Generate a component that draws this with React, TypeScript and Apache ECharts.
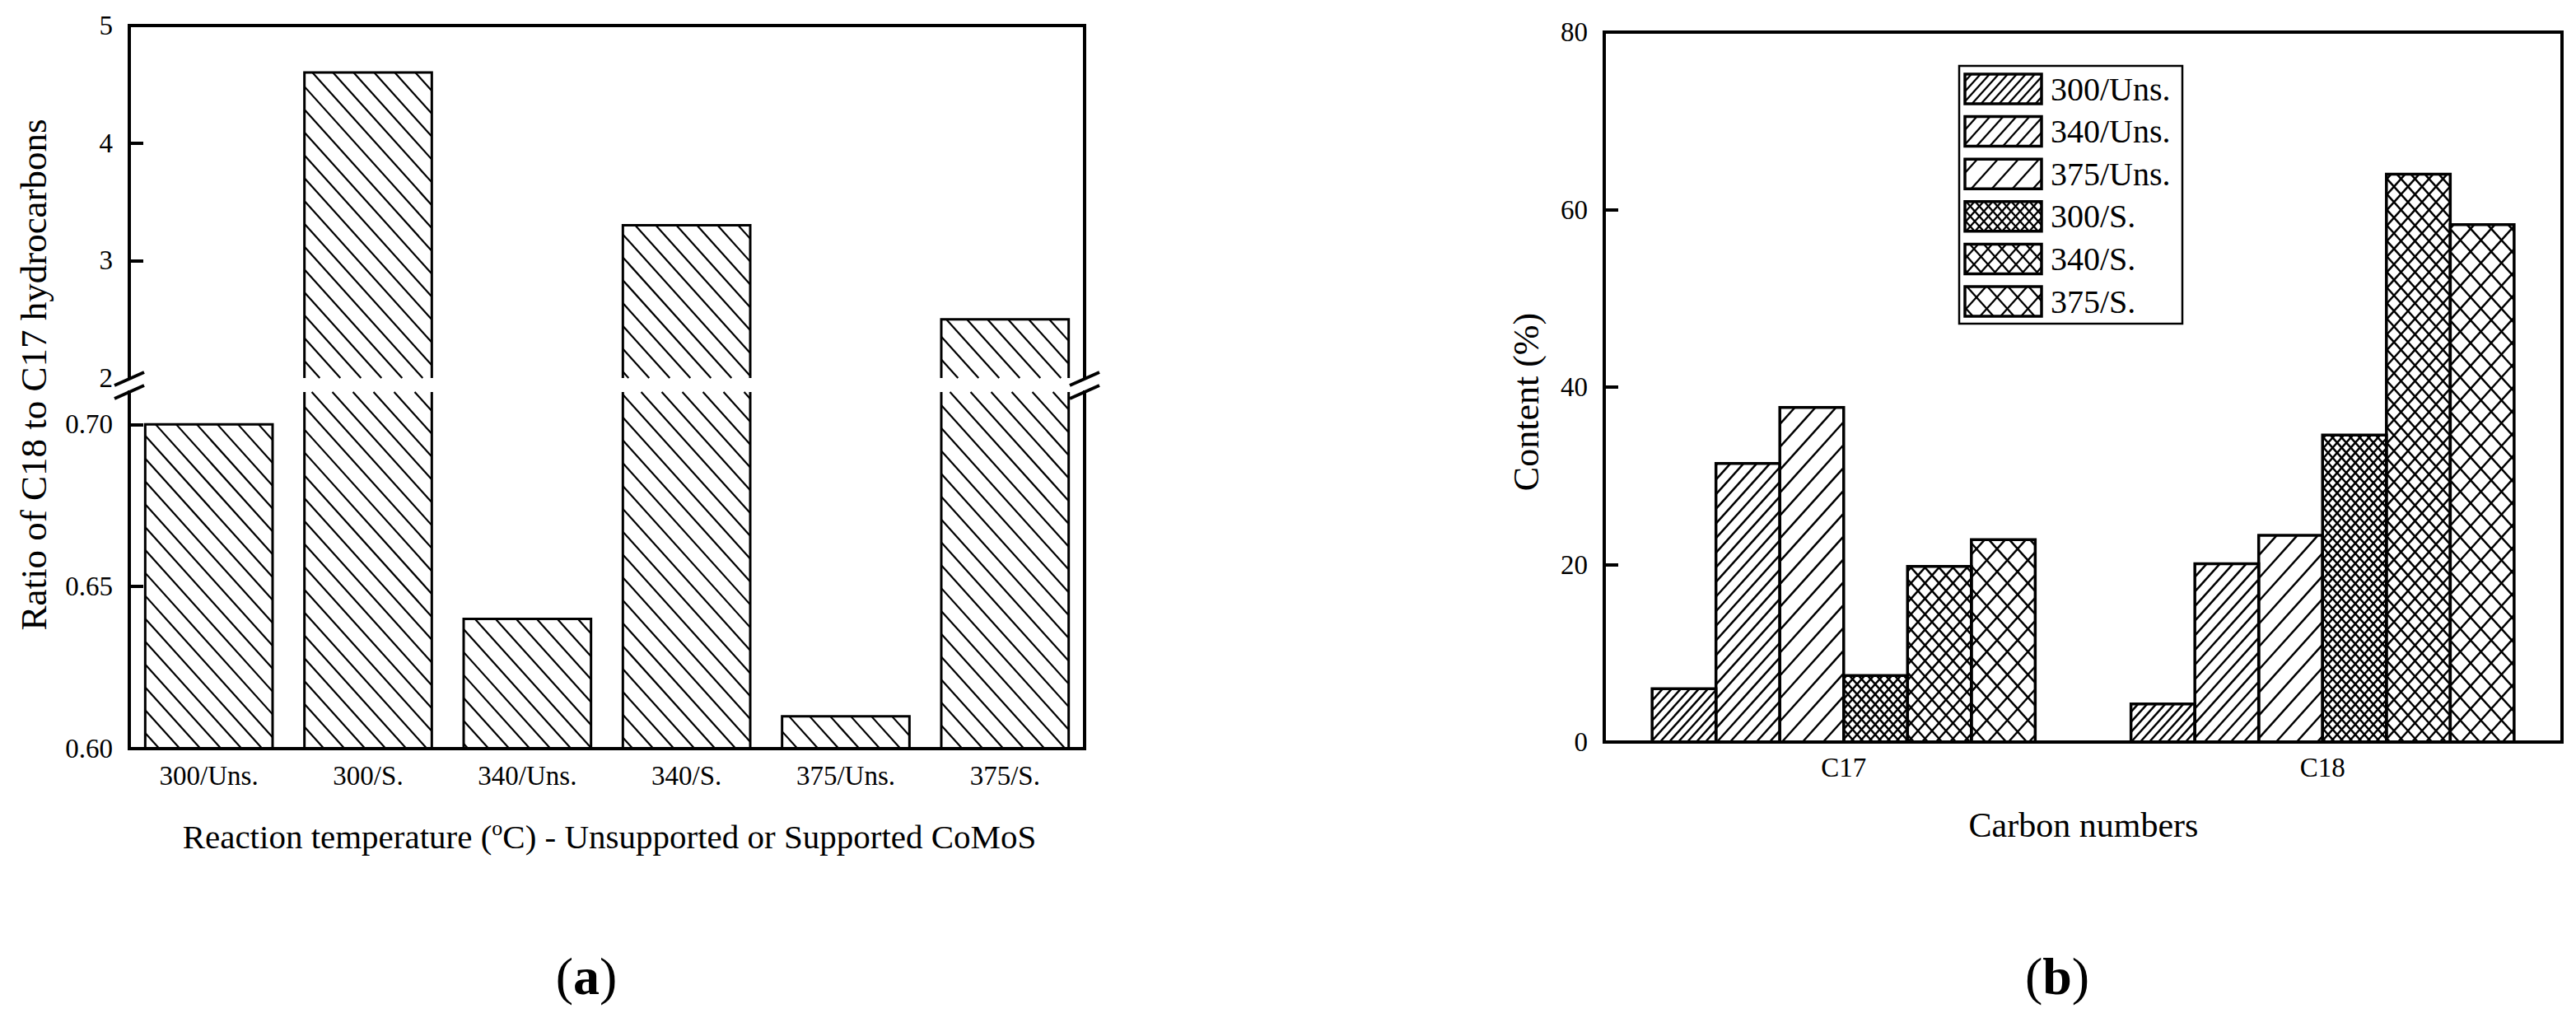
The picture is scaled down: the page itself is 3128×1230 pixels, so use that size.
import React, { useEffect, useRef } from 'react';
import * as echarts from 'echarts';

// ---------------- data ----------------
const ratioCategories = ['300/Uns.', '300/S.', '340/Uns.', '340/S.', '375/Uns.', '375/S.'];
const ratioValues = [0.70, 4.6, 0.64, 3.3, 0.61, 2.5];
const ratioLowerLabels = [0.6, 0.65, 0.7];
const ratioLowerTicks = [0.65, 0.7];
const ratioUpperLabels = [2, 3, 4, 5];
const ratioUpperTicks = [3, 4];

const carbonCategories = ['C17', 'C18'];
const legendNames = ['300/Uns.', '340/Uns.', '375/Uns.', '300/S.', '340/S.', '375/S.'];
const s300Uns = [6.0, 4.3];
const s340Uns = [31.4, 20.1];
const s375Uns = [37.7, 23.3];
const s300S = [7.5, 34.6];
const s340S = [19.8, 64.0];
const s375S = [22.8, 58.3];
const contentSeries = [s300Uns, s340Uns, s375Uns, s300S, s340S, s375S];
const contentTicks = [20, 40, 60];

// ---------------- styles ----------------
const FONT = "'Liberation Serif', 'Times New Roman', serif";
const BLACK = '#000';
const AXIS_W = 4;
const HATCH_ANGLE = 48;
const hatchSpecs = [
  { spacing: 11, dirs: [1] },
  { spacing: 16, dirs: [1] },
  { spacing: 25, dirs: [1] },
  { spacing: 11, dirs: [1, -1] },
  { spacing: 17, dirs: [1, -1] },
  { spacing: 25, dirs: [1, -1] },
];

function hatch(x0: number, y0: number, x1: number, y1: number, sp: number, dir: number, lw: number) {
  const k = 1 / Math.tan((HATCH_ANGLE * Math.PI) / 180);
  const out: any[] = [];
  if (dir === 1) {
    const cmin = x0 + k * y0, cmax = x1 + k * y1;
    for (let c = Math.ceil(cmin / sp) * sp; c <= cmax; c += sp) {
      const ya = Math.max(y0, (c - x1) / k);
      const yb = Math.min(y1, (c - x0) / k);
      if (yb - ya > 0.3) {
        out.push({ type: 'line', silent: true, shape: { x1: c - k * ya, y1: ya, x2: c - k * yb, y2: yb }, style: { stroke: BLACK, lineWidth: lw } });
      }
    }
  } else {
    const cmin = x0 - k * y1, cmax = x1 - k * y0;
    for (let c = Math.ceil(cmin / sp) * sp; c <= cmax; c += sp) {
      const ya = Math.max(y0, (x0 - c) / k);
      const yb = Math.min(y1, (x1 - c) / k);
      if (yb - ya > 0.3) {
        out.push({ type: 'line', silent: true, shape: { x1: c + k * ya, y1: ya, x2: c + k * yb, y2: yb }, style: { stroke: BLACK, lineWidth: lw } });
      }
    }
  }
  return out;
}

function pline(points: number[][], lw: number) {
  return { type: 'polyline', silent: true, shape: { points }, style: { stroke: BLACK, fill: 'none', lineWidth: lw, lineJoin: 'miter' } };
}

function renderRatio(lower: boolean) {
  return (params: any, api: any) => {
    const i = api.value(0);
    const v = api.value(1);
    const cs = params.coordSys;
    const band = api.size([1, 0])[0];
    const w = band * 0.8;
    const cx = api.coord([i, lower ? 0.6 : 2])[0];
    const x0 = cx - w / 2, x1 = cx + w / 2;
    const yBottom = cs.y + cs.height;
    const yTop = cs.y;
    const children: any[] = [];
    if (lower) {
      const yv = api.coord([i, v])[1];
      const open = yv < yTop;
      const yt = open ? yTop : yv;
      children.push(...hatch(x0, yt, x1, yBottom, 25, -1, 2.2));
      if (open) {
        children.push(pline([[x0, yt], [x0, yBottom]], 3));
        children.push(pline([[x1, yt], [x1, yBottom]], 3));
      } else {
        children.push(pline([[x0, yBottom], [x0, yt], [x1, yt], [x1, yBottom]], 3));
      }
    } else {
      if (v <= 2) return { type: 'group', children: [] };
      const yv = api.coord([i, v])[1];
      children.push(...hatch(x0, yv, x1, yBottom, 25, -1, 2.2));
      children.push(pline([[x0, yBottom], [x0, yv], [x1, yv], [x1, yBottom]], 3));
    }
    return { type: 'group', children };
  };
}

function renderContent(s: number) {
  return (params: any, api: any) => {
    const ci = api.value(0);
    const v = api.value(1);
    const band = api.size([1, 0])[0];
    const bw = (band * 0.8) / 6;
    const base = api.coord([ci, 0]);
    const yt = api.coord([ci, v])[1];
    const x0 = base[0] - band * 0.4 + s * bw;
    const x1 = x0 + bw;
    const yb = base[1];
    const spec = hatchSpecs[s];
    const children: any[] = [];
    spec.dirs.forEach((d) => children.push(...hatch(x0, yt, x1, yb, spec.spacing, d, 2.5)));
    children.push({ type: 'rect', silent: true, shape: { x: x0, y: yt, width: bw, height: yb - yt }, style: { fill: 'none', stroke: BLACK, lineWidth: 3.5 } });
    return { type: 'group', children };
  };
}

function buildLegend() {
  const lx = 2379, ly = 80, lw = 271, lh = 313;
  const els: any[] = [
    { type: 'rect', shape: { x: lx, y: ly, width: lw, height: lh }, style: { fill: '#fff', stroke: BLACK, lineWidth: 2.5 }, z: 10 },
  ];
  legendNames.forEach((name, r) => {
    const sx = lx + 7, sy = ly + 10 + r * 51.6, sw = 93, sh = 36;
    const spec = hatchSpecs[r];
    spec.dirs.forEach((d) => {
      hatch(sx, sy, sx + sw, sy + sh, spec.spacing, d, 2.3).forEach((l) => els.push({ ...l, z: 11 }));
    });
    els.push({ type: 'rect', shape: { x: sx, y: sy, width: sw, height: sh }, style: { fill: 'none', stroke: BLACK, lineWidth: 3.5 }, z: 12 });
    els.push({
      type: 'text', x: lx + 111, y: sy + sh / 2, z: 12,
      style: { text: name, fontSize: 40, fontFamily: FONT, fill: BLACK, align: 'left', verticalAlign: 'middle' },
    });
  });
  return els;
}

function breakMarks() {
  const els: any[] = [];
  [157, 1317].forEach((x) => {
    [460, 476].forEach((y) => {
      els.push({ type: 'line', shape: { x1: x - 18, y1: y + 8, x2: x + 18, y2: y - 8 }, style: { stroke: BLACK, lineWidth: 4 }, z: 20 });
    });
  });
  return els;
}

function buildOption(): any {
  const axisLine = { show: true, onZero: false, lineStyle: { color: BLACK, width: AXIS_W, cap: 'square' } };
  const noTick = { show: false };
  const noLabel = { show: false };
  const noSplit = { show: false };
  const tickIn = (vals: number[]) => ({ show: true, inside: true, length: 17, customValues: vals, lineStyle: { color: BLACK, width: AXIS_W } });
  const yLabel = (extra: any = {}) => ({ color: BLACK, fontSize: 33, fontFamily: FONT, margin: 20, ...extra });

  return {
    animation: false,
    backgroundColor: '#fff',
    grid: [
      { left: 157, top: 31, width: 1160, height: 428, outerBoundsMode: 'none', containLabel: false },
      { left: 157, top: 476, width: 1160, height: 433, outerBoundsMode: 'none', containLabel: false },
      { left: 1948, top: 39, width: 1163, height: 862, outerBoundsMode: 'none', containLabel: false },
    ],
    xAxis: [
      { gridIndex: 0, type: 'category', data: ratioCategories, position: 'top', axisLine, axisTick: noTick, axisLabel: noLabel, splitLine: noSplit },
      {
        gridIndex: 1, type: 'category', data: ratioCategories, position: 'bottom', axisLine, axisTick: noTick, splitLine: noSplit,
        axisLabel: { color: BLACK, fontSize: 33, fontFamily: FONT, margin: 16, interval: 0 },
      },
      {
        gridIndex: 2, type: 'category', data: carbonCategories, position: 'bottom', axisLine, axisTick: noTick, splitLine: noSplit,
        axisLabel: { color: BLACK, fontSize: 33, fontFamily: FONT, margin: 14, interval: 0 },
      },
      { gridIndex: 2, type: 'category', data: carbonCategories, position: 'top', axisLine, axisTick: noTick, axisLabel: noLabel, splitLine: noSplit },
    ],
    yAxis: [
      {
        gridIndex: 0, type: 'value', position: 'left', min: 2, max: 5, interval: 1, axisLine,
        axisTick: tickIn(ratioUpperTicks), axisLabel: yLabel({ customValues: ratioUpperLabels }), splitLine: noSplit,
      },
      { gridIndex: 0, type: 'value', position: 'right', min: 2, max: 5, interval: 1, axisLine, axisTick: noTick, axisLabel: noLabel, splitLine: noSplit },
      {
        gridIndex: 1, type: 'value', position: 'left', min: 0.6, max: 0.71, interval: 0.05, axisLine,
        axisTick: tickIn(ratioLowerTicks),
        axisLabel: yLabel({
          customValues: ratioLowerLabels,
          formatter: (v: number) => (v > 0.705 ? '' : v.toFixed(2)),
        }),
        splitLine: noSplit,
      },
      { gridIndex: 1, type: 'value', position: 'right', min: 0.6, max: 0.71, interval: 0.05, axisLine, axisTick: noTick, axisLabel: noLabel, splitLine: noSplit },
      {
        gridIndex: 2, type: 'value', position: 'left', min: 0, max: 80, interval: 20, axisLine,
        axisTick: tickIn(contentTicks), axisLabel: yLabel(), splitLine: noSplit,
      },
      { gridIndex: 2, type: 'value', position: 'right', min: 0, max: 80, interval: 20, axisLine, axisTick: noTick, axisLabel: noLabel, splitLine: noSplit },
    ],
    series: [
      {
        type: 'custom', name: 'ratio-lower', xAxisIndex: 1, yAxisIndex: 2, silent: true,
        data: ratioValues.map((v, i) => [i, v]), renderItem: renderRatio(true), encode: { x: 0, y: 1 },
      },
      {
        type: 'custom', name: 'ratio-upper', xAxisIndex: 0, yAxisIndex: 0, silent: true,
        data: ratioValues.map((v, i) => [i, v]), renderItem: renderRatio(false), encode: { x: 0, y: 1 },
      },
      ...contentSeries.map((vals, s) => ({
        type: 'custom', name: legendNames[s], xAxisIndex: 2, yAxisIndex: 4, silent: true,
        data: vals.map((v, i) => [i, v]), renderItem: renderContent(s), encode: { x: 0, y: 1 },
      })),
    ],
    graphic: [
      ...breakMarks(),
      ...buildLegend(),
      {
        type: 'text', x: 41, y: 455, rotation: Math.PI / 2,
        style: { text: 'Ratio of C18 to C17 hydrocarbons', fontSize: 45, fontFamily: FONT, fill: BLACK, align: 'center', verticalAlign: 'middle' },
      },
      {
        type: 'text', x: 740, y: 1016,
        style: {
          text: 'Reaction temperature ({sup|o}C) - Unsupported or Supported CoMoS',
          fontSize: 41, fontFamily: FONT, fill: BLACK, align: 'center', verticalAlign: 'middle', lineHeight: 48,
          rich: { sup: { fontSize: 26, fontFamily: FONT, fill: BLACK, verticalAlign: 'top', lineHeight: 48 } },
        },
      },
      {
        type: 'text', x: 1853, y: 488, rotation: Math.PI / 2,
        style: { text: 'Content (%)', fontSize: 44, fontFamily: FONT, fill: BLACK, align: 'center', verticalAlign: 'middle' },
      },
      {
        type: 'text', x: 2530, y: 1002,
        style: { text: 'Carbon numbers', fontSize: 42, fontFamily: FONT, fill: BLACK, align: 'center', verticalAlign: 'middle' },
      },
      {
        type: 'text', x: 712, y: 1185,
        style: { text: '({b|a})', fontSize: 64, fontFamily: FONT, fill: BLACK, align: 'center', verticalAlign: 'middle', rich: { b: { fontSize: 64, fontFamily: FONT, fontWeight: 'bold', fill: BLACK } } },
      },
      {
        type: 'text', x: 2498, y: 1185,
        style: { text: '({b|b})', fontSize: 64, fontFamily: FONT, fill: BLACK, align: 'center', verticalAlign: 'middle', rich: { b: { fontSize: 64, fontFamily: FONT, fontWeight: 'bold', fill: BLACK } } },
      },
    ],
  };
}

export default function App() {
  const ref = useRef<HTMLDivElement>(null);
  useEffect(() => {
    document.body.style.margin = '0';
    const chart = echarts.init(ref.current!, null, { renderer: 'svg', width: 3128, height: 1230 });
    chart.setOption(buildOption());
    return () => chart.dispose();
  }, []);
  return <div ref={ref} style={{ width: 3128, height: 1230, position: 'fixed', left: 0, top: 0, background: '#fff' }} />;
}
